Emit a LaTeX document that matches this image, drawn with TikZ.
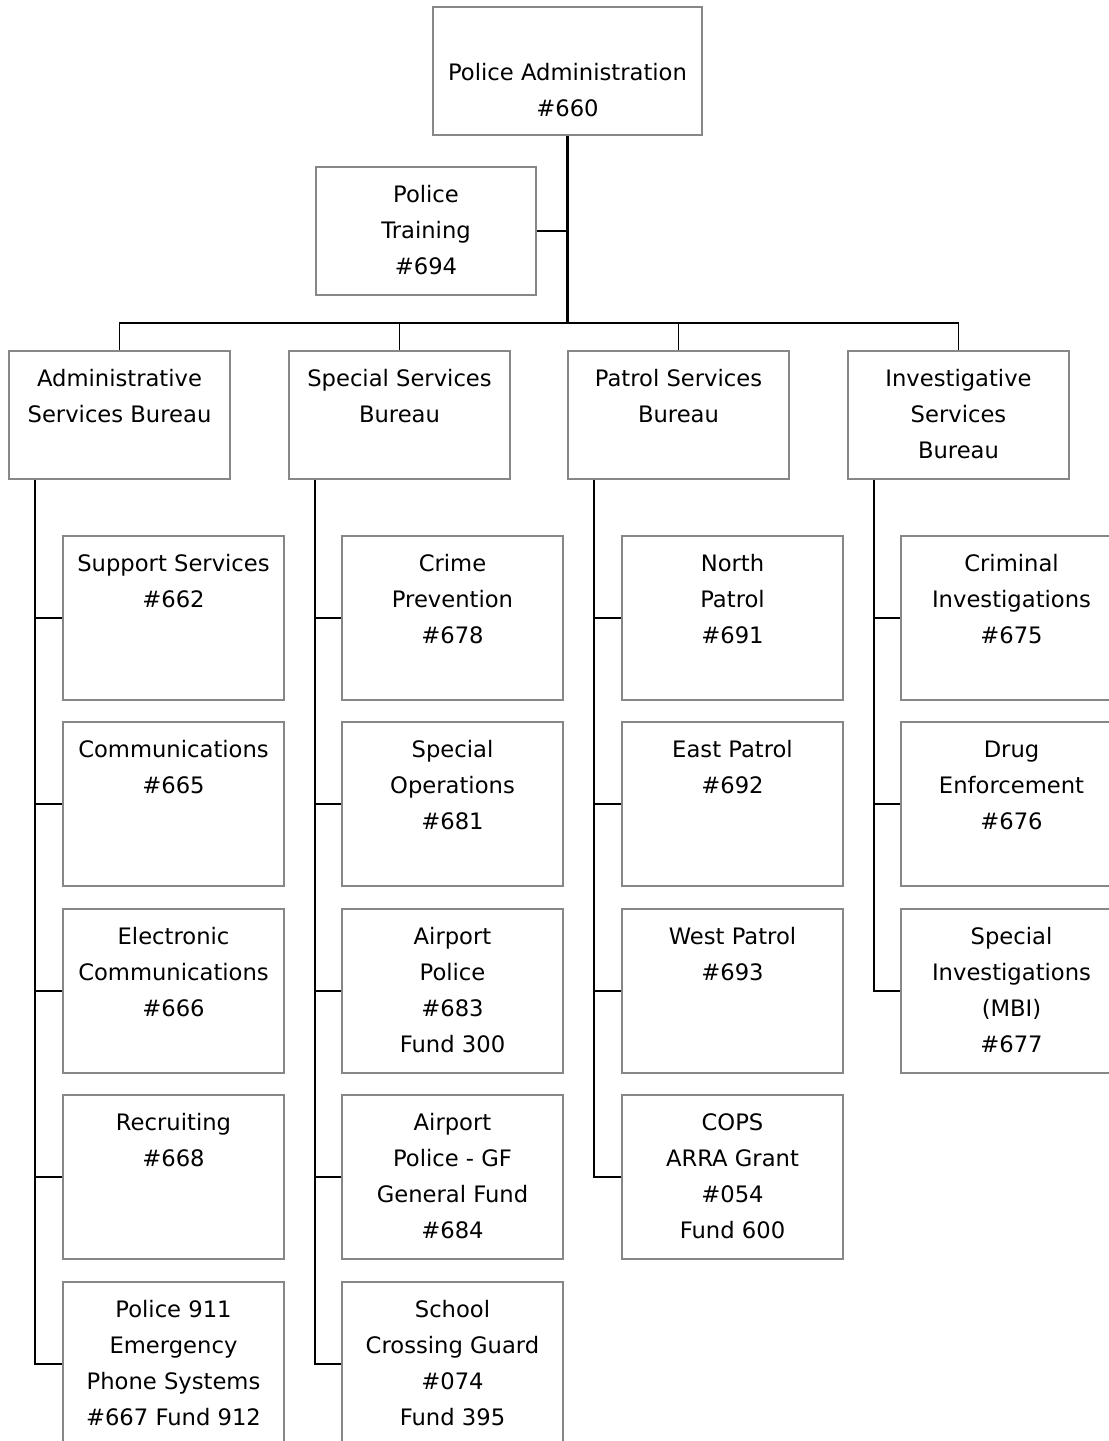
\documentclass[tikz,border=0pt]{standalone}
\usepackage{fontspec}
\setmainfont{DejaVu Sans}
\definecolor{boxgray}{RGB}{135,135,135}
\tikzset{
  orgbox/.style={draw=boxgray, line width=1.5pt, fill=white, rectangle, anchor=north west, inner sep=0pt},
  topsize/.style={minimum width=201.75pt, minimum height=96pt},
  trnsize/.style={minimum width=165pt, minimum height=96pt},
  bursize/.style={minimum width=165.75pt, minimum height=96pt},
  chsize/.style={minimum width=165.75pt, minimum height=123pt},
  txt/.style={anchor=north, inner sep=0pt, align=center, font=\fontsize{17}{27}\selectfont},
  conn/.style={draw=black, line width=1.3pt},
  trunk/.style={draw=black, line width=2.2pt}
}
\newcommand{\obox}[5]{%
  \node[orgbox,#1] (#2) at (#3) {};
  \node[txt] (#2t) at ([yshift=#4]#2.north) {\strut #5};}
\begin{document}
\begin{tikzpicture}[x=0.75pt, y=-0.75pt]
\useasboundingbox (0,0) rectangle (1109,1441);
% top
\obox{topsize}{top}{432,6}{-36.6pt}{Police Administration\\\#660}
\obox{trnsize}{trn}{315,166}{-8.1pt}{Police\\Training\\\#694}
% bureaus
\obox{bursize}{adm}{8,350}{-8.1pt}{Administrative\\Services Bureau}
\obox{bursize}{spc}{288,350}{-8.1pt}{Special Services\\Bureau}
\obox{bursize}{pat}{567,350}{-8.1pt}{Patrol Services\\Bureau}
\obox{bursize}{inv}{847,350}{-8.1pt}{Investigative\\Services\\Bureau}
% admin children
\obox{chsize}{a1}{62,535}{-8.1pt}{Support Services\\\#662}
\obox{chsize}{a2}{62,721}{-8.1pt}{Communications\\\#665}
\obox{chsize}{a3}{62,908}{-8.1pt}{Electronic\\Communications\\\#666}
\obox{chsize}{a4}{62,1094}{-8.1pt}{Recruiting\\\#668}
\obox{chsize}{a5}{62,1281}{-8.1pt}{Police 911\\Emergency\\Phone Systems\\\#667 Fund 912}
% special children
\obox{chsize}{s1}{341,535}{-8.1pt}{Crime\\Prevention\\\#678}
\obox{chsize}{s2}{341,721}{-8.1pt}{Special\\Operations\\\#681}
\obox{chsize}{s3}{341,908}{-8.1pt}{Airport\\Police\\\#683\\Fund 300}
\obox{chsize}{s4}{341,1094}{-8.1pt}{Airport\\Police - GF\\General Fund\\\#684}
\obox{chsize}{s5}{341,1281}{-8.1pt}{School\\Crossing Guard\\\#074\\Fund 395}
% patrol children
\obox{chsize}{p1}{621,535}{-8.1pt}{North\\Patrol\\\#691}
\obox{chsize}{p2}{621,721}{-8.1pt}{East Patrol\\\#692}
\obox{chsize}{p3}{621,908}{-8.1pt}{West Patrol\\\#693}
\obox{chsize}{p4}{621,1094}{-8.1pt}{COPS\\ARRA Grant\\\#054\\Fund 600}
% investigative children
\obox{chsize}{i1}{900,535}{-8.1pt}{Criminal\\Investigations\\\#675}
\obox{chsize}{i2}{900,721}{-8.1pt}{Drug\\Enforcement\\\#676}
\obox{chsize}{i3}{900,908}{-8.1pt}{Special\\Investigations\\(MBI)\\\#677}
% connectors
\draw[trunk] (top.south) -- ([yshift=20.25pt]top.south |- adm.north);
\draw[conn] (trn.east) -- (trn.east -| top.south);
\draw[conn] (adm.north) -- ++(0,-27) -| (inv.north);
\draw[conn] (spc.north) -- ++(0,-27);
\draw[conn] (pat.north) -- ++(0,-27);
\foreach \b/\c in {adm/a1,adm/a2,adm/a3,adm/a4,adm/a5,spc/s1,spc/s2,spc/s3,spc/s4,spc/s5,pat/p1,pat/p2,pat/p3,pat/p4,inv/i1,inv/i2,inv/i3}
  \draw[conn] ([xshift=20.25pt]\b.south west) |- (\c.west);
\end{tikzpicture}
\end{document}
